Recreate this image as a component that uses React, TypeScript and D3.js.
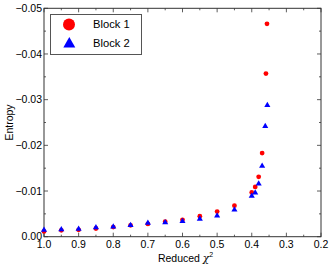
import React, { useEffect, useRef } from 'react';
import * as d3 from 'd3';

// reduced chi^2 positions and entropies
const chiBlock1 = [1.0, 0.95, 0.9, 0.85, 0.8, 0.75, 0.7, 0.65, 0.6, 0.55, 0.5, 0.45, 0.4, 0.39, 0.38, 0.37, 0.359, 0.356];
const entropyBlock1 = [-0.00116, -0.0014, -0.0015, -0.0018, -0.0021, -0.0025, -0.0028, -0.0033, -0.0037, -0.0045, -0.0055, -0.0068, -0.0097, -0.0109, -0.0131, -0.0183, -0.0357, -0.0466];
const chiBlock2 = [1.0, 0.95, 0.9, 0.85, 0.8, 0.75, 0.7, 0.65, 0.6, 0.55, 0.5, 0.45, 0.4, 0.39, 0.38, 0.37, 0.361, 0.355];
const entropyBlock2 = [-0.00146, -0.0016, -0.0017, -0.002, -0.0022, -0.0025, -0.003, -0.0031, -0.0034, -0.0039, -0.0046, -0.0059, -0.0089, -0.0096, -0.0116, -0.0155, -0.0242, -0.0288];

const xMajor = [1.0, 0.9, 0.8, 0.7, 0.6, 0.5, 0.4, 0.3, 0.2];
const xMinor = [0.95, 0.85, 0.75, 0.65, 0.55, 0.45, 0.35, 0.25];
const yMajor = [0, -0.01, -0.02, -0.03, -0.04, -0.05];
const yMinor = [-0.005, -0.015, -0.025, -0.035, -0.045];

const legendLabels = ['Block 1', 'Block 2'];

const App = () => {
  const svgRef = useRef<SVGSVGElement>(null);

  useEffect(() => {
    const width = 332;
    const height = 268;
    const margin = { top: 8.3, right: 11, bottom: 31.3, left: 44 };
    const font = '"Liberation Sans", Arial, sans-serif';

    d3.select(svgRef.current).selectAll('*').remove();

    const svg = d3.select(svgRef.current)
      .attr('width', width)
      .attr('height', height);

    const x = d3.scaleLinear()
      .domain([1.0, 0.2])
      .range([margin.left, width - margin.right]);

    const y = d3.scaleLinear()
      .domain([0, -0.05])
      .range([height - margin.bottom, margin.top]);

    const x0 = x.range()[0], x1 = x.range()[1];
    const y0 = y.range()[0], y1 = y.range()[1];
    const axisColor = '#333';

    // ticks, pointing inwards on all four sides
    const ticks = svg.append('g').attr('stroke', axisColor).attr('stroke-width', 0.8);
    const xTick = (v: number, len: number) => {
      ticks.append('line').attr('x1', x(v)).attr('x2', x(v)).attr('y1', y0).attr('y2', y0 - len);
      ticks.append('line').attr('x1', x(v)).attr('x2', x(v)).attr('y1', y1).attr('y2', y1 + len);
    };
    const yTick = (v: number, len: number) => {
      ticks.append('line').attr('x1', x0).attr('x2', x0 + len).attr('y1', y(v)).attr('y2', y(v));
      ticks.append('line').attr('x1', x1).attr('x2', x1 - len).attr('y1', y(v)).attr('y2', y(v));
    };
    xMajor.forEach(v => xTick(v, 4));
    xMinor.forEach(v => xTick(v, 2));
    yMajor.forEach(v => yTick(v, 4));
    yMinor.forEach(v => yTick(v, 2));

    // frame
    svg.append('rect')
      .attr('x', x0)
      .attr('y', y1)
      .attr('width', x1 - x0)
      .attr('height', y0 - y1)
      .attr('fill', 'none')
      .attr('stroke', axisColor)
      .attr('stroke-width', 1);

    // tick labels
    svg.append('g')
      .selectAll('text')
      .data(xMajor)
      .enter()
      .append('text')
      .attr('x', d => x(d))
      .attr('y', y0 + 11)
      .attr('text-anchor', 'middle')
      .attr('font-family', font)
      .attr('font-size', 10.5)
      .attr('fill', '#000')
      .text(d => d3.format('.1f')(d));

    svg.append('g')
      .selectAll('text')
      .data(yMajor)
      .enter()
      .append('text')
      .attr('x', x0 - 2)
      .attr('y', d => y(d))
      .attr('dy', '0.35em')
      .attr('text-anchor', 'end')
      .attr('font-family', font)
      .attr('font-size', 10.5)
      .attr('fill', '#000')
      .text(d => (d === 0 ? '0.00' : d3.format('.2f')(d)));

    // axis titles
    const xTitle = svg.append('text')
      .attr('x', (x0 + x1) / 2 + 3)
      .attr('y', 261.5)
      .attr('text-anchor', 'middle')
      .attr('font-family', font)
      .attr('font-size', 10.5)
      .attr('fill', '#000');
    xTitle.append('tspan').text('Reduced ');
    xTitle.append('tspan').attr('font-style', 'italic').attr('font-family', '"DejaVu Serif", serif').text('χ');
    xTitle.append('tspan').attr('font-size', 7).attr('dy', -5).text('2');

    svg.append('text')
      .attr('transform', `translate(12.5,${(y0 + y1) / 2}) rotate(-90)`)
      .attr('text-anchor', 'middle')
      .attr('font-family', font)
      .attr('font-size', 10.5)
      .attr('fill', '#000')
      .text('Entropy');

    // data points
    const plot = svg.append('g');
    const triangle = d3.symbol().type(d3.symbolTriangle).size(16);

    plot.selectAll('circle')
      .data(chiBlock1.map((c, i) => [c, entropyBlock1[i]]))
      .enter()
      .append('circle')
      .attr('cx', d => x(d[0]))
      .attr('cy', d => y(d[1]))
      .attr('r', 2.4)
      .attr('fill', '#ff0000');

    plot.selectAll('path')
      .data(chiBlock2.map((c, i) => [c, entropyBlock2[i]]))
      .enter()
      .append('path')
      .attr('d', triangle)
      .attr('transform', d => `translate(${x(d[0])},${y(d[1])})`)
      .attr('fill', '#0000ff');

    // legend
    const legend = svg.append('g');
    legend.append('rect')
      .attr('x', 50.5)
      .attr('y', 14.5)
      .attr('width', 91)
      .attr('height', 40)
      .attr('fill', '#fff')
      .attr('stroke', '#555')
      .attr('stroke-width', 1);

    legend.append('circle')
      .attr('cx', 69)
      .attr('cy', 24.5)
      .attr('r', 6)
      .attr('fill', '#ff0000');

    legend.append('path')
      .attr('d', d3.symbol().type(d3.symbolTriangle).size(62)())
      .attr('transform', 'translate(69.3,44)')
      .attr('fill', '#0000ff');

    legend.selectAll('text')
      .data(legendLabels)
      .enter()
      .append('text')
      .attr('x', 93)
      .attr('y', (d, i) => 24.5 + i * 18.7)
      .attr('dy', '0.35em')
      .attr('font-family', font)
      .attr('font-size', 11.2)
      .attr('fill', '#000')
      .text(d => d);
  }, []);

  return (
    <svg ref={svgRef} style={{ position: 'absolute', left: 0, top: 0 }}></svg>
  );
};

export default App;
